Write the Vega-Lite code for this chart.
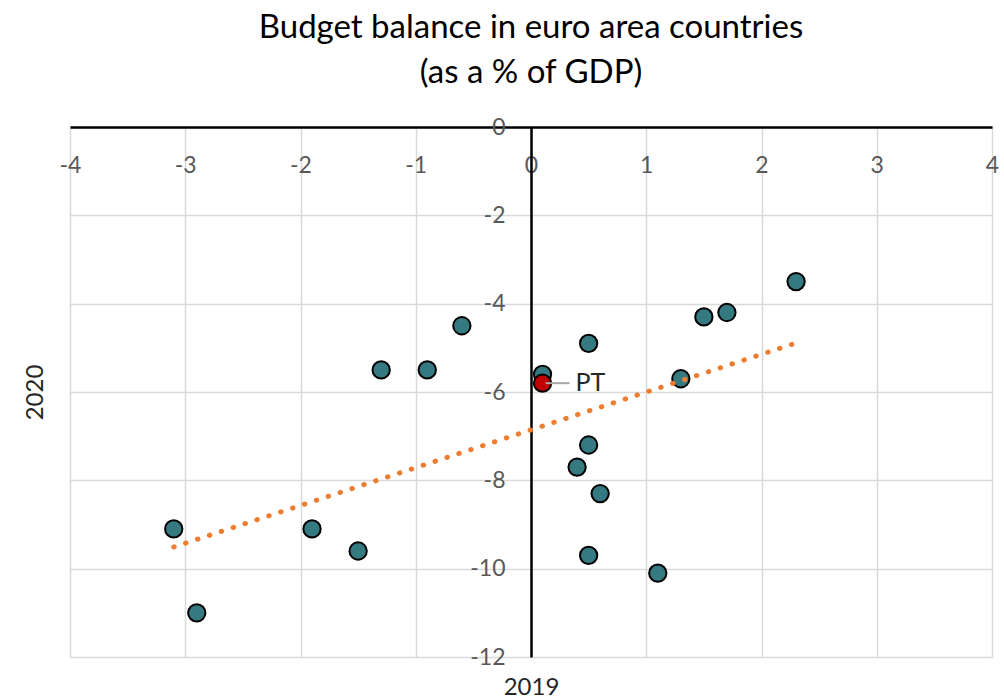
{
  "$schema": "https://vega.github.io/schema/vega-lite/v6.json",
  "width": 922,
  "height": 530,
  "autosize": {"type": "none"},
  "padding": {"left": 70, "top": 127, "right": 12, "bottom": 41},
  "background": "white",
  "title": {
    "text": ["Budget balance in euro area countries", "(as a % of GDP)"],
    "font": "Lato",
    "fontSize": 33,
    "fontWeight": "normal",
    "color": "#000000",
    "lineHeight": 45,
    "frame": "group",
    "anchor": "middle",
    "offset": 26
  },
  "datasets": {
    "pts": [
      {"name": "", "y2019": -3.1, "y2020": -9.1},
      {"name": "", "y2019": -2.9, "y2020": -11.0},
      {"name": "", "y2019": -1.9, "y2020": -9.1},
      {"name": "", "y2019": -1.5, "y2020": -9.6},
      {"name": "", "y2019": -1.3, "y2020": -5.5},
      {"name": "", "y2019": -0.9, "y2020": -5.5},
      {"name": "", "y2019": -0.6, "y2020": -4.5},
      {"name": "", "y2019": 0.1, "y2020": -5.6},
      {"name": "", "y2019": 0.5, "y2020": -4.9},
      {"name": "", "y2019": 0.5, "y2020": -7.2},
      {"name": "", "y2019": 0.4, "y2020": -7.7},
      {"name": "", "y2019": 0.6, "y2020": -8.3},
      {"name": "", "y2019": 0.5, "y2020": -9.7},
      {"name": "", "y2019": 1.1, "y2020": -10.1},
      {"name": "", "y2019": 1.3, "y2020": -5.7},
      {"name": "", "y2019": 1.5, "y2020": -4.3},
      {"name": "", "y2019": 1.7, "y2020": -4.2},
      {"name": "", "y2019": 2.3, "y2020": -3.5},
      {"name": "PT", "y2019": 0.1, "y2020": -5.8}
    ],
    "trend": [
      {"y2019": -3.1, "y2020": -9.51},
      {"y2019": 2.3, "y2020": -4.89}
    ]
  },
  "encoding": {
    "x": {
      "field": "y2019",
      "type": "quantitative",
      "scale": {"domain": [-4, 4], "nice": false, "zero": false},
      "axis": {
        "orient": "bottom",
        "offset": -530,
        "values": [-4, -3, -2, -1, 0, 1, 2, 3, 4],
        "labelExpr": "datum.value < 0 ? '-' + abs(datum.value) : '' + datum.value",
        "grid": true,
        "gridColor": "#d9d9d9",
        "gridWidth": 1.5,
        "domainColor": "#000000",
        "domainWidth": 2.5,
        "ticks": false,
        "labelFont": "Lato",
        "labelFontSize": 23,
        "labelColor": "#595959",
        "labelBaseline": "middle",
        "labelPadding": 38,
        "labelFlush": false,
        "labelOverlap": false,
        "labelBound": false,
        "title": "2019",
        "titleFont": "Lato",
        "titleFontSize": 24,
        "titleFontWeight": "normal",
        "titleColor": "#262626",
        "titleBaseline": "middle",
        "titleY": 560,
        "titleX": 461
      }
    },
    "y": {
      "field": "y2020",
      "type": "quantitative",
      "scale": {"domain": [-12, 0], "nice": false, "zero": false},
      "axis": {
        "orient": "left",
        "offset": -461,
        "values": [0, -2, -4, -6, -8, -10, -12],
        "labelExpr": "datum.value < 0 ? '-' + abs(datum.value) : '' + datum.value",
        "grid": true,
        "gridColor": "#d9d9d9",
        "gridWidth": 1.5,
        "domainColor": "#000000",
        "domainWidth": 2.5,
        "ticks": false,
        "labelFont": "Lato",
        "labelFontSize": 23,
        "labelColor": "#595959",
        "labelBaseline": "middle",
        "labelPadding": 26,
        "labelOverlap": false,
        "labelFlush": false,
        "labelBound": false,
        "title": "2020",
        "titleFont": "Lato",
        "titleFontSize": 24,
        "titleFontWeight": "normal",
        "titleColor": "#262626",
        "titleAngle": -90,
        "titleBaseline": "middle",
        "titleX": -496,
        "titleY": 265
      }
    }
  },
  "layer": [
    {
      "data": {"name": "pts"},
      "mark": {"type": "point", "filled": true, "size": 300, "stroke": "#000000", "strokeWidth": 2, "opacity": 1, "strokeOpacity": 1, "fillOpacity": 1},
      "encoding": {
        "fill": {
          "condition": {"test": "datum.name == 'PT'", "value": "#c00000"},
          "value": "#357a81"
        }
      }
    },
    {
      "data": {"name": "trend"},
      "mark": {"type": "line", "color": "#ed7d31", "strokeWidth": 5, "strokeDash": [0.5, 12], "strokeCap": "round"},
      "encoding": {}
    },
    {
      "data": {"name": "pts"},
      "transform": [{"filter": "datum.name == 'PT'"}],
      "mark": {"type": "rule", "color": "#a6a6a6", "strokeWidth": 2, "xOffset": 3, "x2Offset": 27},
      "encoding": {"x2": {"field": "y2019"}}
    },
    {
      "data": {"name": "pts"},
      "transform": [{"filter": "datum.name == 'PT'"}],
      "mark": {"type": "text", "align": "left", "baseline": "middle", "dx": 33, "font": "Lato", "fontSize": 25, "color": "#262626"},
      "encoding": {"text": {"field": "name"}}
    }
  ]
}
